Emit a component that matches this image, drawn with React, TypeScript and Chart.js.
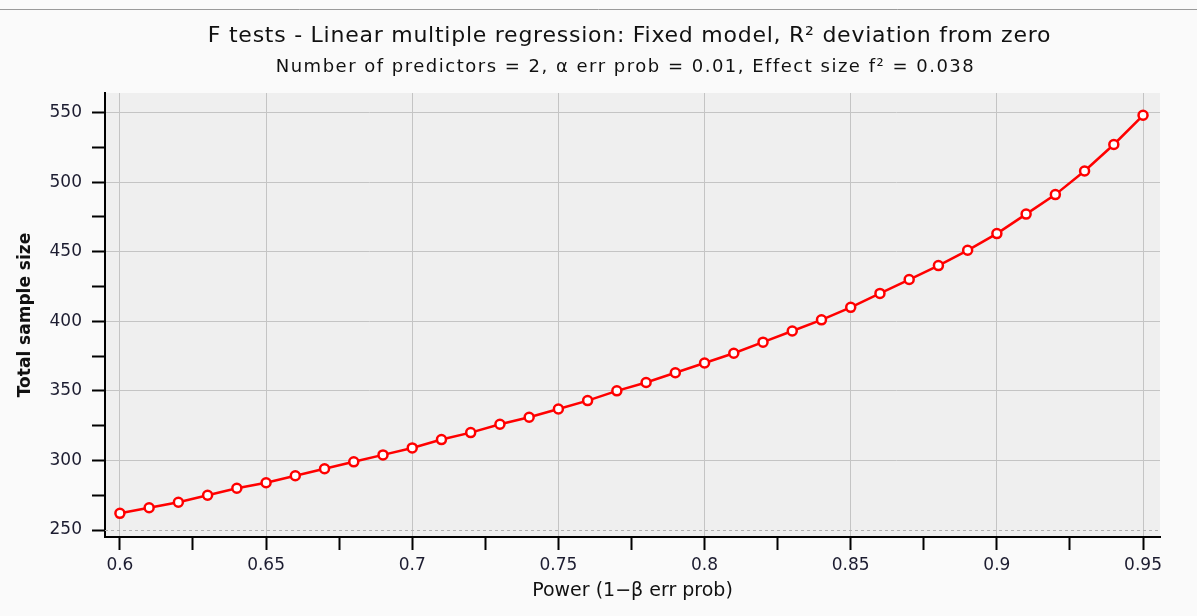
import React, { useEffect, useRef } from "react";
import { Chart, registerables } from "chart.js";

Chart.register(...registerables);

const titleText = "F tests - Linear multiple regression: Fixed model, R² deviation from zero";
const subtitleText = "Number of predictors = 2, α err prob = 0.01, Effect size f² = 0.038";
const xAxisTitle = "Power (1−β err prob)";
const yAxisTitle = "Total sample size";

const powerValues = [
  0.6, 0.61, 0.62, 0.63, 0.64, 0.65, 0.66, 0.67, 0.68, 0.69, 0.7, 0.71,
  0.72, 0.73, 0.74, 0.75, 0.76, 0.77, 0.78, 0.79, 0.8, 0.81, 0.82, 0.83,
  0.84, 0.85, 0.86, 0.87, 0.88, 0.89, 0.9, 0.91, 0.92, 0.93, 0.94, 0.95,
];
const sampleSizes = [
  262, 266, 270, 275, 280, 284, 289, 294, 299, 304, 309, 315,
  320, 326, 331, 337, 343, 350, 356, 363, 370, 377, 385, 393,
  401, 410, 420, 430, 440, 451, 463, 477, 491, 508, 527, 548,
];
const xTicks = [
  0.6, 0.625, 0.65, 0.675, 0.7, 0.725, 0.75, 0.775, 0.8, 0.825, 0.85, 0.875, 0.9, 0.925, 0.95,
];
const xTickLabels = ["0.6", "", "0.65", "", "0.7", "", "0.75", "", "0.8", "", "0.85", "", "0.9", "", "0.95"];
const yTicks = [250, 275, 300, 325, 350, 375, 400, 425, 450, 475, 500, 525, 550];
const yTickLabels = ["250", "", "300", "", "350", "", "400", "", "450", "", "500", "", "550"];

const FONT = "'DejaVu Sans', 'Noto Sans', sans-serif";

const bgPlugin = {
  id: "bgPlugin",
  beforeDraw(chart: any) {
    const { ctx, chartArea } = chart;
    ctx.save();
    ctx.fillStyle = "#fafafa";
    ctx.fillRect(0, 0, chart.width, chart.height);
    ctx.fillStyle = "#efefef";
    ctx.fillRect(chartArea.left, chartArea.top, chartArea.right - chartArea.left, chartArea.bottom - chartArea.top);
    ctx.strokeStyle = "#9a9a9a";
    ctx.lineWidth = 1;
    ctx.beginPath();
    ctx.moveTo(0, 9.5);
    ctx.lineTo(chart.width, 9.5);
    ctx.stroke();
    ctx.restore();
  },
  beforeDatasetsDraw(chart: any) {
    const { ctx, chartArea, scales } = chart;
    const y = Math.round(scales.y.getPixelForValue(250)) + 0.5;
    ctx.save();
    ctx.strokeStyle = "#b0b0b0";
    ctx.lineWidth = 1;
    ctx.setLineDash([3, 3]);
    ctx.beginPath();
    ctx.moveTo(chartArea.left, y);
    ctx.lineTo(chartArea.right, y);
    ctx.stroke();
    ctx.restore();
  },
  afterDraw(chart: any) {
    const { ctx, chartArea } = chart;
    const cx = (chartArea.left + chartArea.right) / 2 - 3;
    ctx.save();
    ctx.fillStyle = "#111";
    ctx.textAlign = "center";
    ctx.textBaseline = "middle";
    ctx.font = `22px ${FONT}`;
    (ctx as any).letterSpacing = "0.75px";
    ctx.fillText(titleText, cx, 36);
    ctx.font = `18px ${FONT}`;
    (ctx as any).letterSpacing = "1.5px";
    ctx.fillText(subtitleText, cx - 4, 67);
    ctx.restore();
  },
};

export default function App() {
  const ref = useRef<HTMLCanvasElement | null>(null);
  useEffect(() => {
    if (!ref.current) return;
    const chart = new Chart(ref.current, {
      type: "line",
      data: {
        datasets: [
          {
            data: powerValues.map((x, i) => ({ x, y: sampleSizes[i] })),
            borderColor: "#ff0000",
            borderWidth: 2.5,
            backgroundColor: "#ffffff",
            pointBackgroundColor: "#ffffff",
            pointBorderColor: "#ff0000",
            pointBorderWidth: 2.5,
            pointRadius: 4.5,
            tension: 0,
          },
        ],
      },
      options: {
        responsive: false,
        animation: false,
        layout: { padding: { top: 93, right: 37, left: 0, bottom: 0 } },
        plugins: { legend: { display: false }, tooltip: { enabled: false }, title: { display: false } },
        scales: {
          x: {
            type: "linear",
            min: 0.5949,
            max: 0.9558,
            afterFit(scale: any) {
              scale.height = 79;
            },
            afterBuildTicks(scale: any) {
              scale.ticks = xTicks.map((v) => ({ value: v }));
            },
            border: { display: true, color: "#000", width: 2 },
            grid: {
              color: (c: any) => (c.tick && xTickLabels[xTicks.indexOf(c.tick.value)] ? "#c4c4c4" : "rgba(0,0,0,0)"),
              tickColor: "#000",
              tickLength: 13,
              tickWidth: 2,
              lineWidth: 1,
            },
            ticks: {
              autoSkip: false,
              maxRotation: 0,
              padding: 5,
              color: "#1c1c30",
              font: { family: FONT, size: 17 },
              callback: (v: any) => {
                const i = xTicks.findIndex((t) => Math.abs(t - Number(v)) < 1e-6);
                return i >= 0 ? xTickLabels[i] : "";
              },
            },
            title: {
              display: true,
              text: xAxisTitle,
              color: "#111",
              font: { family: FONT, size: 19 },
              padding: { top: 0, bottom: 14 },
            },
          },
          y: {
            type: "linear",
            min: 245,
            max: 564,
            afterFit(scale: any) {
              scale.width = 105;
            },
            afterBuildTicks(scale: any) {
              scale.ticks = yTicks.map((v) => ({ value: v }));
            },
            border: { display: true, color: "#000", width: 2 },
            grid: {
              color: (c: any) => {
                if (!c.tick) return "rgba(0,0,0,0)";
                const i = yTicks.indexOf(c.tick.value);
                return yTickLabels[i] && c.tick.value !== 250 ? "#c4c4c4" : "rgba(0,0,0,0)";
              },
              tickColor: "#000",
              tickLength: 13,
              tickWidth: 2,
              lineWidth: 1,
            },
            ticks: {
              autoSkip: false,
              padding: 10,
              color: "#1c1c30",
              font: { family: FONT, size: 17 },
              callback: (v: any) => {
                const i = yTicks.indexOf(Number(v));
                return i >= 0 ? yTickLabels[i] : "";
              },
            },
            title: {
              display: true,
              text: yAxisTitle,
              color: "#111",
              font: { family: FONT, size: 17, weight: "bold" },
              padding: { top: 15, bottom: 0 },
            },
          },
        },
      },
      plugins: [bgPlugin],
    });
    return () => chart.destroy();
  }, []);
  return (
    <div style={{ position: "absolute", left: 0, top: 0, width: 1197, height: 616 }}>
      <canvas ref={ref} width={1197} height={616} />
    </div>
  );
}
